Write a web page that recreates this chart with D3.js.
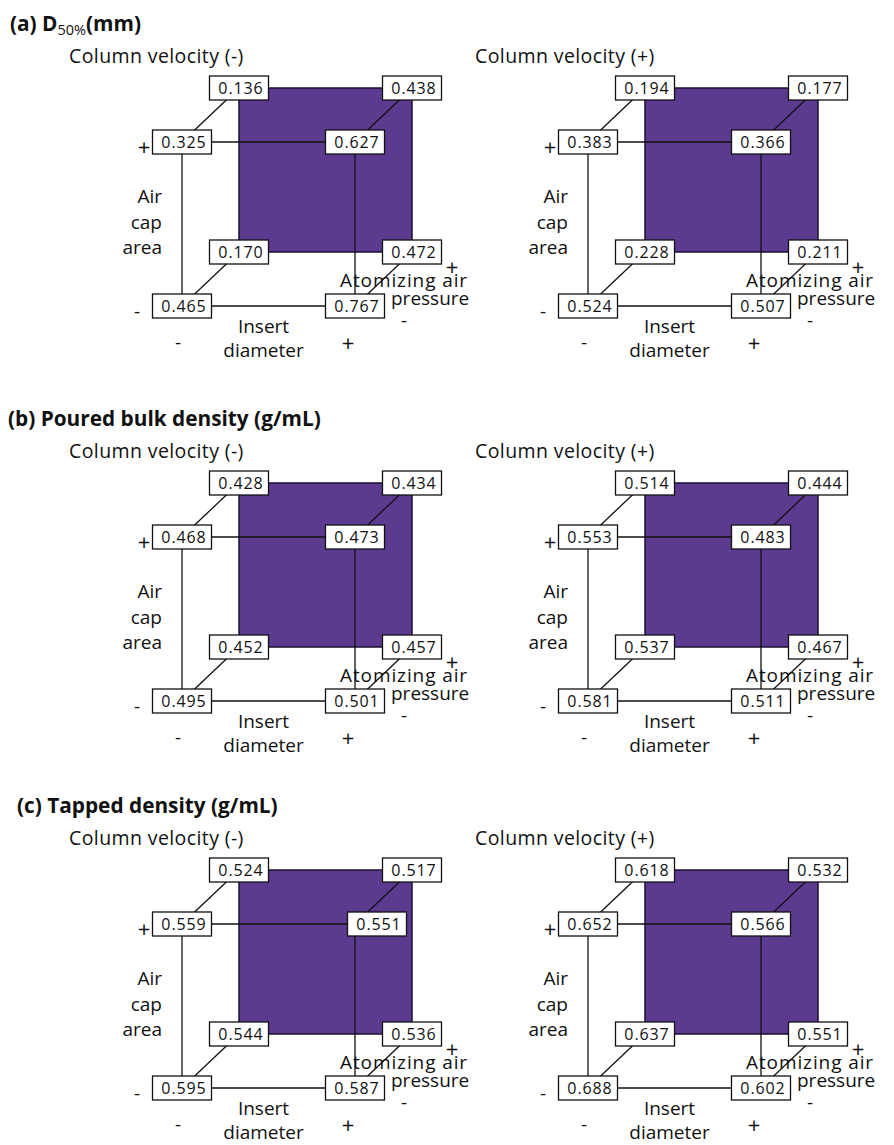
<!DOCTYPE html>
<html>
<head>
<meta charset="utf-8">
<script src="https://cdn.jsdelivr.net/npm/d3@7"></script>
<style>
  html, body { margin: 0; padding: 0; background: #fff; }
  svg text { font-family: "Open Sans", sans-serif; fill: #111; }
</style>
</head>
<body>
<svg id="chart" width="894" height="1145"></svg>
<script>
// Factor levels of each cube corner: [insert diameter, air cap area, atomizing air pressure]
const designPoints = [
  [-1, -1, -1], [ 1, -1, -1], [-1,  1, -1], [ 1,  1, -1],
  [-1, -1,  1], [ 1, -1,  1], [-1,  1,  1], [ 1,  1,  1]
];

// Responses at each corner (same order as designPoints)
const d50VelMinus     = [0.465, 0.767, 0.325, 0.627, 0.170, 0.472, 0.136, 0.438];
const d50VelPlus      = [0.524, 0.507, 0.383, 0.366, 0.228, 0.211, 0.194, 0.177];
const pouredVelMinus  = [0.495, 0.501, 0.468, 0.473, 0.452, 0.457, 0.428, 0.434];
const pouredVelPlus   = [0.581, 0.511, 0.553, 0.483, 0.537, 0.467, 0.514, 0.444];
const tappedVelMinus  = [0.595, 0.587, 0.559, 0.551, 0.544, 0.536, 0.524, 0.517];
const tappedVelPlus   = [0.688, 0.602, 0.652, 0.566, 0.637, 0.551, 0.618, 0.532];

const panelTitles = [
  ["(a) D", "50%", "(mm)"],
  ["(b) Poured bulk density (g/mL)"],
  ["(c) Tapped density (g/mL)"]
];
const velocityLabels = ["Column velocity (-)", "Column velocity (+)"];
const airLabel = ["Air", "cap", "area"];
const insertLabel = ["Insert", "diameter"];
const pressureLabel = ["Atomizing air", "pressure"];

const panelValues = [
  [d50VelMinus, d50VelPlus],
  [pouredVelMinus, pouredVelPlus],
  [tappedVelMinus, tappedVelPlus]
];

// ---- layout ----
const panelTop   = [0, 395, 782];
const titleX     = [10, 8, 17];
const columnLeft = [0, 406];
const purple = "#5b3a8f";
const boxW = 59, boxH = 24;
// occasional hand placement of a value box off its corner
const boxShift = { "2-0-3": [22, 0] };

const fmt = d3.format(".3f");
const svg = d3.select("#chart");
svg.append("rect").attr("width", 894).attr("height", 1145).attr("fill", "#fff");

// front face scales, depth offset scale
const xs = d3.scaleLinear().domain([-1, 1]).range([182, 355]);
const ys = d3.scaleLinear().domain([-1, 1]).range([306, 142]);
const depth = d3.scaleLinear().domain([-1, 1]).range([0, 1]);
const depthDX = 57, depthDY = -54;
const project = p => [xs(p[0]) + depthDX * depth(p[2]), ys(p[1]) + depthDY * depth(p[2])];

panelValues.forEach((pair, pi) => {
  const panel = svg.append("g").attr("transform", `translate(0,${panelTop[pi]})`);

  // panel title
  const t = panel.append("text")
    .attr("x", titleX[pi]).attr("y", 31)
    .style("font-weight", 700).style("font-size", "20.8px");
  t.append("tspan").text(panelTitles[pi][0]);
  if (panelTitles[pi].length > 1) {
    t.append("tspan").attr("dy", 4).style("font-size", "14.5px").style("font-weight", 400).text(panelTitles[pi][1]);
    t.append("tspan").attr("dy", -4).text(panelTitles[pi][2]);
  }

  pair.forEach((values, ci) => {
    const g = panel.append("g").attr("transform", `translate(${columnLeft[ci]},0)`);

    g.append("text")
      .attr("x", 69).attr("y", 63)
      .style("font-size", "19.5px")
      .style("letter-spacing", "0.4px")
      .text(velocityLabels[ci]);

    // back face (atomizing air pressure +)
    const bTL = project([-1, 1, 1]), bBR = project([1, -1, 1]);
    g.append("rect")
      .attr("x", bTL[0]).attr("y", bTL[1])
      .attr("width", bBR[0] - bTL[0]).attr("height", bBR[1] - bTL[1])
      .attr("fill", purple).attr("stroke", "#1a1030").attr("stroke-width", 1.5);

    // edges: front face and depth edges
    const edges = [];
    designPoints.forEach((a, i) => designPoints.forEach((b, j) => {
      if (j <= i) return;
      const diff = a.map((v, k) => v !== b[k] ? 1 : 0);
      if (d3.sum(diff) !== 1) return;
      if (a[2] === 1 && b[2] === 1) return; // back face drawn as the filled square
      edges.push([a, b]);
    }));
    g.selectAll("line.edge").data(edges).join("line")
      .attr("class", "edge")
      .attr("x1", d => project(d[0])[0]).attr("y1", d => project(d[0])[1])
      .attr("x2", d => project(d[1])[0]).attr("y2", d => project(d[1])[1])
      .attr("stroke", "#111").attr("stroke-width", 1.3);

    // axis captions
    const lbl = (x, y, txt, anchor, size, spacing) => g.append("text")
      .attr("x", x).attr("y", y).attr("text-anchor", anchor || "start")
      .style("font-size", (size || 19) + "px")
      .style("letter-spacing", (spacing || 0) + "px")
      .text(txt);

    lbl(xs(-1) - 38, ys(1) + 13, "+", "middle", 22);
    lbl(xs(-1) - 45, ys(-1) + 12, "-", "middle");
    airLabel.forEach((s, k) => lbl(xs(-1) - 20, 203 + k * 25.5, s, "end"));
    insertLabel.forEach((s, k) => lbl((xs(-1) + xs(1)) / 2 - 5, 333 + k * 24, s, "middle"));
    lbl(xs(-1) - 4, 349, "-", "middle");
    lbl(xs(1) - 7, 351, "+", "middle", 22);
    lbl(340, 287, pressureLabel[0], "start", 19, 0.9);
    lbl(391, 305, pressureLabel[1], "start");
    lbl(452, 275, "+", "middle", 22);
    lbl(404, 327, "-", "middle");

    // value boxes
    const boxes = g.selectAll("g.box").data(designPoints.map((p, k) => ({ p, v: values[k], k })))
      .join("g").attr("class", "box")
      .attr("transform", d => {
        const c = project(d.p);
        const s = boxShift[`${pi}-${ci}-${d.k}`] || [0, 0];
        return `translate(${c[0] + s[0]},${c[1] + s[1]})`;
      });
    boxes.append("rect")
      .attr("x", -boxW / 2).attr("y", -boxH / 2)
      .attr("width", boxW).attr("height", boxH)
      .attr("fill", "#fff").attr("stroke", "#111").attr("stroke-width", 1.3);
    boxes.append("text")
      .attr("x", 2).attr("y", 6)
      .attr("text-anchor", "middle")
      .style("font-size", "16px").style("letter-spacing", "0.9px")
      .text(d => fmt(d.v));
  });
});
</script>
</body>
</html>
